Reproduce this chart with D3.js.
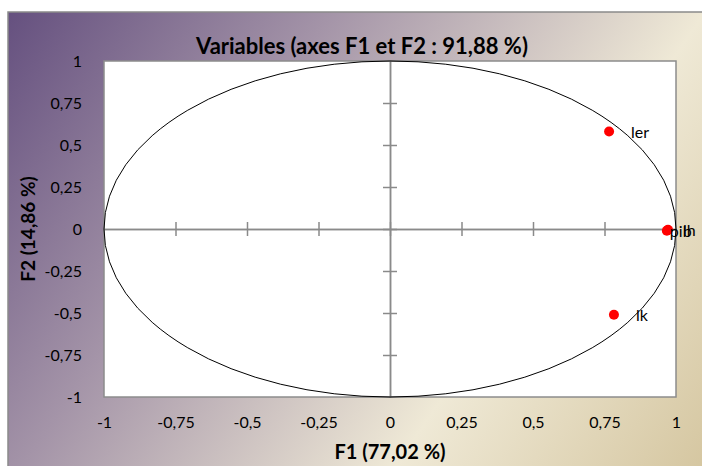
<!DOCTYPE html>
<html>
<head>
<meta charset="utf-8">
<script src="https://cdn.jsdelivr.net/npm/d3@7"></script>
<style>
  body { margin: 0; background: #fff; }
  svg { display: block; }
  text { font-family: Lato, "Open Sans", sans-serif; }
</style>
</head>
<body>
<svg width="702" height="466"></svg>
<script>
// variables (correlations with F1 / F2)
var varNames = ["ler", "lk", "lh", "pib"];
var f1Values = [0.766, 0.783, 0.972, 0.968];
var f2Values = [0.58, -0.51, -0.005, -0.01];
var tickValues = [-1, -0.75, -0.5, -0.25, 0, 0.25, 0.5, 0.75, 1];
var chartTitle = "Variables (axes F1 et F2 : 91,88 %)";
var xTitle = "F1 (77,02 %)";
var yTitle = "F2 (14,86 %)";

// label nudges (style only)
var labelDx = { ler: 22, lk: 22, pib: 3, lh: 15 };

var svg = d3.select("svg");
var width = 702, height = 466;

var margin = { top: 61, right: 26, bottom: 69, left: 104 };
var plotW = width - margin.left - margin.right;
var plotH = height - margin.top - margin.bottom;

// background gradient
var defs = svg.append("defs");
var grad = defs.append("linearGradient")
  .attr("id", "bg")
  .attr("gradientUnits", "userSpaceOnUse")
  .attr("x1", 8).attr("y1", 12).attr("x2", 698).attr("y2", 482);
grad.append("stop").attr("offset", 0).attr("stop-color", "#65507f");
grad.append("stop").attr("offset", 0.32).attr("stop-color", "#a494a8");
grad.append("stop").attr("offset", 0.69).attr("stop-color", "#efe9d6");
grad.append("stop").attr("offset", 1).attr("stop-color", "#d5c6a0");

svg.append("rect")
  .attr("x", 8).attr("y", 12)
  .attr("width", 720).attr("height", 470)
  .attr("fill", "url(#bg)")
  .attr("stroke", "#8a8a8a")
  .attr("stroke-width", 1.5);

var x = d3.scaleLinear().domain([-1, 1]).range([margin.left, margin.left + plotW]);
var y = d3.scaleLinear().domain([-1, 1]).range([margin.top + plotH, margin.top]);

var fr = d3.formatLocale({ decimal: ",", thousands: " ", grouping: [3], currency: ["", " €"], minus: "-" });
var fmt = fr.format("");

// plot area
svg.append("rect")
  .attr("x", x(-1)).attr("y", y(1))
  .attr("width", x(1) - x(-1)).attr("height", y(-1) - y(1))
  .attr("fill", "#fff")
  .attr("stroke", "#8c8c8c")
  .attr("stroke-width", 1.5);

// zero axes with crossing ticks
var axisColor = "#8a8a8a";
function styleAxis(g) {
  g.selectAll("path.domain").attr("stroke", axisColor).attr("stroke-width", 1.5);
  g.selectAll(".tick line").attr("stroke", axisColor).attr("stroke-width", 1.5);
  g.selectAll(".tick text").remove();
}
var innerTicks = tickValues.filter(function (d) { return Math.abs(d) < 1; });

svg.append("g").attr("transform", "translate(0," + y(0) + ")")
  .call(d3.axisBottom(x).tickValues(innerTicks).tickSize(7).tickSizeOuter(0))
  .call(styleAxis);
svg.append("g").attr("transform", "translate(0," + y(0) + ")")
  .call(d3.axisTop(x).tickValues(innerTicks).tickSize(7).tickSizeOuter(0))
  .call(styleAxis);
svg.append("g").attr("transform", "translate(" + x(0) + ",0)")
  .call(d3.axisLeft(y).tickValues(innerTicks).tickSize(7).tickSizeOuter(0))
  .call(styleAxis);
svg.append("g").attr("transform", "translate(" + x(0) + ",0)")
  .call(d3.axisRight(y).tickValues(innerTicks).tickSize(7).tickSizeOuter(0))
  .call(styleAxis);

// correlation circle
svg.append("ellipse")
  .attr("cx", x(0)).attr("cy", y(0))
  .attr("rx", x(1) - x(0)).attr("ry", y(0) - y(1))
  .attr("fill", "none")
  .attr("stroke", "#000")
  .attr("stroke-width", 1);

// tick labels
var xLab = svg.append("g").attr("transform", "translate(0," + (y(-1) + 17) + ")")
  .call(d3.axisBottom(x).tickValues(tickValues).tickSize(0).tickFormat(fmt));
xLab.select("path.domain").remove();
xLab.selectAll("text").attr("font-size", 16).attr("fill", "#000")
  .attr("font-family", "Lato, sans-serif");

var yLab = svg.append("g").attr("transform", "translate(" + (x(-1) - 19) + ",0)")
  .call(d3.axisLeft(y).tickValues(tickValues).tickSize(0).tickFormat(fmt));
yLab.select("path.domain").remove();
yLab.selectAll("text").attr("font-size", 16).attr("fill", "#000")
  .attr("font-family", "Lato, sans-serif");

// points
var pts = varNames.map(function (n, i) { return { name: n, f1: f1Values[i], f2: f2Values[i] }; });

svg.append("g").selectAll("circle")
  .data(pts).enter().append("circle")
  .attr("cx", function (d) { return x(d.f1); })
  .attr("cy", function (d) { return y(d.f2); })
  .attr("r", 5)
  .attr("fill", "#ff0000");

svg.append("g").selectAll("text")
  .data(pts).enter().append("text")
  .attr("x", function (d) { return x(d.f1) + labelDx[d.name]; })
  .attr("y", function (d) { return y(d.f2); })
  .attr("dy", "0.38em")
  .attr("font-size", 16)
  .attr("fill", "#000")
  .text(function (d) { return d.name; });

// titles
svg.append("text")
  .attr("x", 362).attr("y", 54)
  .attr("text-anchor", "middle")
  .attr("font-size", 22).attr("font-weight", "bold")
  .text(chartTitle);

svg.append("text")
  .attr("x", x(0)).attr("y", 459)
  .attr("text-anchor", "middle")
  .attr("font-size", 20).attr("font-weight", "bold")
  .text(xTitle);

svg.append("text")
  .attr("transform", "translate(35," + y(0) + ") rotate(-90)")
  .attr("text-anchor", "middle")
  .attr("font-size", 19).attr("font-weight", "bold")
  .text(yTitle);
</script>
</body>
</html>
